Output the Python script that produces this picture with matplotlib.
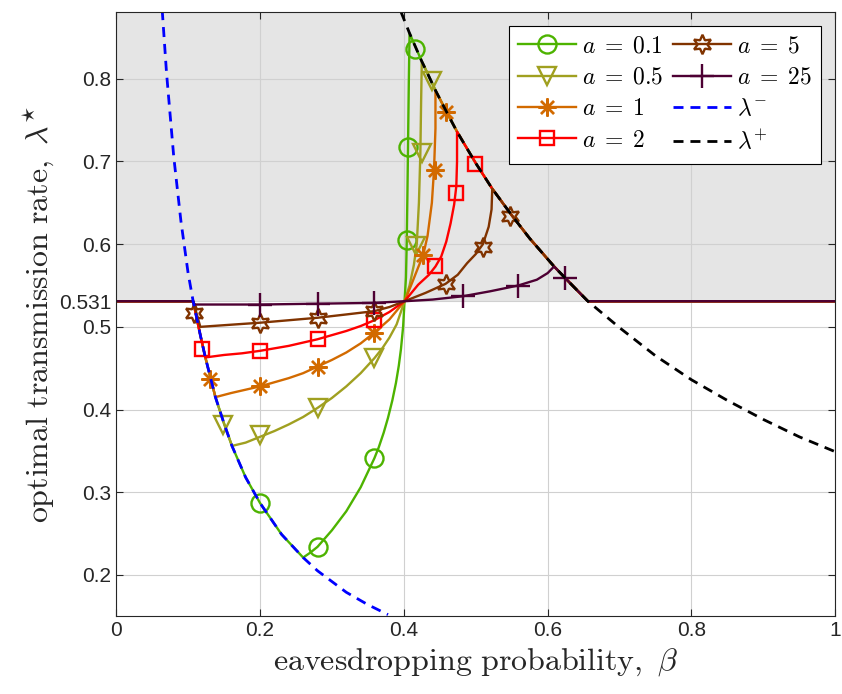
import matplotlib
matplotlib.use("Agg")
import matplotlib.pyplot as plt
from matplotlib.lines import Line2D

plt.rcParams["mathtext.fontset"] = "cm"
plt.rcParams["font.family"] = ["Liberation Sans", "DejaVu Sans"]

# ---- data ------------------------------------------------------------------
lam_flat = 0.531

# lambda^- boundary (blue dashed)
lam_minus_beta = [0.064, 0.070, 0.080, 0.090, 0.100, 0.107, 0.117, 0.124, 0.138,
                  0.150, 0.161, 0.180, 0.200, 0.230, 0.260, 0.280, 0.320, 0.350, 0.378]
lam_minus_val = [0.883, 0.807, 0.706, 0.628, 0.565, 0.531, 0.490, 0.463, 0.415,
                 0.383, 0.356, 0.318, 0.287, 0.249, 0.221, 0.205, 0.179, 0.164, 0.152]

# lambda^+ boundary (black dashed)
lam_plus_beta = [0.396, 0.408, 0.416, 0.425, 0.430, 0.444, 0.460, 0.474, 0.500, 0.523,
                 0.550, 0.575, 0.609, 0.630, 0.656, 0.700, 0.750, 0.800, 0.850, 0.900,
                 0.950, 1.000]
lam_plus_val = [0.881, 0.855, 0.839, 0.821, 0.812, 0.786, 0.759, 0.736, 0.698, 0.667,
                0.635, 0.607, 0.573, 0.554, 0.531, 0.499, 0.465, 0.436, 0.411, 0.388,
                0.367, 0.349]

a_labels = ["0.1", "0.5", "1", "2", "5", "25"]

# lower branch (from lambda^- to pivot)
low_beta = [
    [0.260, 0.270, 0.280, 0.300, 0.320, 0.340, 0.359, 0.365, 0.372, 0.378, 0.384,
     0.389, 0.393, 0.396, 0.399, 0.401],
    [0.161, 0.180, 0.200, 0.220, 0.240, 0.260, 0.280, 0.300, 0.320, 0.340, 0.359,
     0.370, 0.380, 0.390, 0.401],
    [0.138, 0.160, 0.180, 0.200, 0.220, 0.240, 0.260, 0.280, 0.300, 0.320, 0.340,
     0.359, 0.380, 0.401],
    [0.124, 0.150, 0.175, 0.200, 0.240, 0.280, 0.320, 0.340, 0.359, 0.380, 0.401],
    [0.117, 0.150, 0.200, 0.240, 0.280, 0.320, 0.359, 0.380, 0.401],
    [0.109, 0.150, 0.200, 0.280, 0.359, 0.401],
]
low_val = [
    [0.221, 0.227, 0.234, 0.254, 0.277, 0.306, 0.341, 0.354, 0.372, 0.390, 0.411,
     0.432, 0.453, 0.473, 0.500, 0.531],
    [0.356, 0.360, 0.367, 0.374, 0.382, 0.391, 0.402, 0.414, 0.428, 0.444, 0.462,
     0.474, 0.487, 0.503, 0.531],
    [0.415, 0.420, 0.424, 0.428, 0.433, 0.438, 0.444, 0.452, 0.460, 0.469, 0.480,
     0.493, 0.509, 0.531],
    [0.463, 0.466, 0.468, 0.471, 0.477, 0.485, 0.495, 0.501, 0.508, 0.518, 0.531],
    [0.500, 0.502, 0.505, 0.508, 0.511, 0.515, 0.519, 0.524, 0.531],
    [0.527, 0.527, 0.527, 0.528, 0.529, 0.531],
]

# upper branch (from pivot to lambda^+)
up_beta = [
    [0.401, 0.403, 0.404, 0.405, 0.406, 0.407, 0.408],
    [0.401, 0.408, 0.414, 0.418, 0.421, 0.423, 0.424, 0.425],
    [0.401, 0.410, 0.420, 0.427, 0.433, 0.439, 0.442, 0.444, 0.444],
    [0.401, 0.420, 0.435, 0.444, 0.452, 0.459, 0.465, 0.470, 0.473, 0.474, 0.474],
    [0.401, 0.430, 0.458, 0.475, 0.488, 0.500, 0.510, 0.518, 0.522, 0.523],
    [0.401, 0.440, 0.482, 0.520, 0.559, 0.585, 0.600, 0.609],
]
up_val = [
    [0.531, 0.560, 0.600, 0.660, 0.730, 0.800, 0.855],
    [0.531, 0.550, 0.575, 0.600, 0.650, 0.710, 0.770, 0.821],
    [0.531, 0.550, 0.572, 0.587, 0.610, 0.650, 0.690, 0.740, 0.786],
    [0.531, 0.551, 0.563, 0.573, 0.585, 0.603, 0.625, 0.648, 0.670, 0.700, 0.736],
    [0.531, 0.541, 0.552, 0.563, 0.577, 0.588, 0.600, 0.621, 0.642, 0.667],
    [0.531, 0.533, 0.537, 0.543, 0.550, 0.557, 0.565, 0.573],
]

# marker positions
mk_beta = [
    [0.200, 0.280, 0.359, 0.404, 0.406, 0.416],
    [0.149, 0.200, 0.280, 0.359, 0.417, 0.425, 0.439],
    [0.130, 0.200, 0.280, 0.359, 0.427, 0.444, 0.458],
    [0.120, 0.200, 0.280, 0.359, 0.444, 0.473, 0.499],
    [0.108, 0.200, 0.280, 0.359, 0.458, 0.510, 0.548],
    [0.200, 0.280, 0.359, 0.482, 0.559, 0.624],
]
mk_val = [
    [0.287, 0.234, 0.341, 0.605, 0.717, 0.836],
    [0.381, 0.369, 0.402, 0.462, 0.598, 0.710, 0.797],
    [0.437, 0.428, 0.452, 0.493, 0.587, 0.690, 0.760],
    [0.473, 0.471, 0.485, 0.508, 0.573, 0.662, 0.697],
    [0.517, 0.505, 0.511, 0.519, 0.552, 0.597, 0.634],
    [0.527, 0.528, 0.529, 0.537, 0.550, 0.559],
]

colors = ["#4db300", "#a0a020", "#d26a00", "#ff0000", "#803300", "#4d0033"]
markers = ["o", "v", (8, 2, 0), "s", (6, 1, 0), "+"]
msizes = [13, 13, 13, 10, 14, 17]

# ---- figure -----------------------------------------------------------------
fig = plt.figure(figsize=(8.42, 6.94), dpi=100)
ax = fig.add_axes([0.138, 0.112, 0.854, 0.871])

ymin, ymax = 0.15, 0.881
ax.axhspan(lam_flat, ymax, color="#e5e5e5", zorder=0, lw=0)

handles = []
for i in range(6):
    b0 = low_beta[i][0]
    b1 = up_beta[i][-1]
    xs = [0.0, 0.107]
    ys = [lam_flat, lam_flat]
    for b, v in zip(lam_minus_beta, lam_minus_val):
        if 0.107 < b < b0:
            xs.append(b)
            ys.append(v)
    xs += low_beta[i] + up_beta[i][1:]
    ys += low_val[i] + up_val[i][1:]
    for b, v in zip(lam_plus_beta, lam_plus_val):
        if b1 < b <= 0.656:
            xs.append(b)
            ys.append(v)
    xs.append(1.0)
    ys.append(lam_flat)
    ax.plot(xs, ys, color=colors[i], lw=1.7, zorder=2 + i)
    ax.plot(mk_beta[i], mk_val[i], ls="none", marker=markers[i], ms=msizes[i],
            mfc="none", mec=colors[i], mew=1.7, zorder=2 + i)
    handles.append(Line2D([], [], color=colors[i], lw=1.7, marker=markers[i],
                          ms=msizes[i], mfc="none", mec=colors[i], mew=1.7,
                          label=r"$a\;=\;%s$" % a_labels[i]))

l1, = ax.plot(lam_minus_beta, lam_minus_val, color="#0000ff", lw=2.0,
              dashes=(3.6, 2.5), zorder=10, label=r"$\lambda^{-}$")
l2, = ax.plot(lam_plus_beta, lam_plus_val, color="black", lw=2.0,
              dashes=(3.6, 2.5), zorder=10, label=r"$\lambda^{+}$")
handles += [l1, l2]

ax.set_xlim(0, 1)
ax.set_ylim(ymin, ymax)
ax.set_xticks([0, 0.2, 0.4, 0.6, 0.8, 1])
ax.set_xticklabels(["0", "0.2", "0.4", "0.6", "0.8", "1"])
ax.set_yticks([0.2, 0.3, 0.4, 0.5, 0.531, 0.6, 0.7, 0.8])
ax.set_yticklabels(["0.2", "0.3", "0.4", "0.5", "0.531", "0.6", "0.7", "0.8"])
ax.tick_params(direction="in", top=True, right=True, labelsize=15,
               color="#262626", labelcolor="#262626", length=5)
ax.grid(True, color="#d0d0d0", lw=0.8)
ax.set_axisbelow(True)
for s in ax.spines.values():
    s.set_color("#262626")
    s.set_linewidth(0.8)
    s.set_zorder(20)

ax.set_xlabel(r"$\mathrm{eavesdropping\ probability,}\ \beta$", fontsize=23,
              color="#262626", labelpad=4)
ax.set_ylabel(r"$\mathrm{optimal\ transmission\ rate,}\ \lambda^{\star}$",
              fontsize=23, color="#262626", labelpad=2)

leg = ax.legend(handles=handles, ncol=2, loc="upper right", fontsize=17,
                handlelength=2.45, handletextpad=0.25, columnspacing=0.4,
                labelspacing=0.4, borderaxespad=0.6, borderpad=0.4,
                fancybox=False, framealpha=1, edgecolor="black")
leg.get_frame().set_linewidth(0.8)
leg.set_zorder(30)

fig.savefig("out.png", dpi=100)
